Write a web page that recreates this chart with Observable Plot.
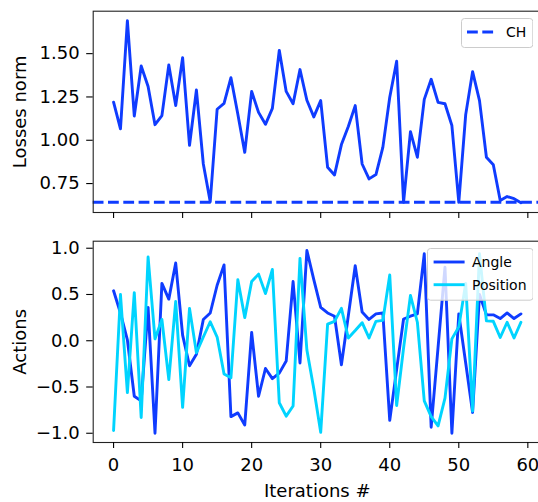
<!DOCTYPE html>
<html>
<head>
<meta charset="utf-8">
<script src="https://cdn.jsdelivr.net/npm/d3@7"></script>
<script src="https://cdn.jsdelivr.net/npm/@observablehq/plot@0.6"></script>
<style>
html, body { margin: 0; padding: 0; background: #fff; overflow: hidden; }
#fig { position: relative; width: 538px; height: 502px; font-family: "DejaVu Sans", sans-serif; }
#fig > svg { position: absolute; left: 0; }
.legend { position: absolute; }
</style>
</head>
<body>
<div id="fig"></div>
<script>
// ---- data ----
const losses = [1.22, 1.066, 1.69, 1.14, 1.429, 1.31, 1.09, 1.142, 1.435, 1.2,
  1.477, 0.971, 1.29, 0.863, 0.645, 1.179, 1.213, 1.361, 1.15, 0.93,
  1.282, 1.161, 1.092, 1.184, 1.519, 1.282, 1.211, 1.408, 1.231, 1.135,
  1.229, 0.844, 0.8, 0.975, 1.079, 1.2, 0.863, 0.777, 0.802, 0.959,
  1.248, 1.456, 0.642, 1.05, 0.902, 1.236, 1.352, 1.219, 1.211, 1.085,
  0.642, 1.148, 1.396, 1.229, 0.902, 0.859, 0.652, 0.675, 0.663, 0.639];
const chValue = [0.642];
const angle = [0.54, 0.3, 0.01, -0.6, -0.65, 0.36, -1.0, 0.62, 0.45, 0.84,
  0.06, -0.27, -0.145, 0.23, 0.3, 0.6, 0.82, -0.82, -0.78, -0.91,
  0.09, -0.6, -0.3, -0.41, -0.35, -0.22, 0.64, -0.24, 0.975, 0.66,
  0.36, 0.3, 0.265, -0.26, 0.27, 0.81, 0.31, 0.23, 0.29, 0.3,
  -0.86, -0.31, 0.235, 0.265, 0.29, 0.94, -0.935, -0.07, 0.795, -1.0,
  0.29, -0.24, -0.775, 0.5, 0.28, 0.28, 0.24, 0.3, 0.24, 0.29];
const position = [-0.97, 0.5, -0.56, 0.52, -0.83, 0.905, 0.02, 0.23, -0.42, 0.425,
  -0.72, 0.35, -0.13, 0.04, 0.205, 0.04, -0.36, -0.4, 0.66, 0.25,
  0.64, 0.72, 0.51, 0.77, -0.67, -0.815, -0.705, 0.89, -0.1, -0.52,
  -0.99, 0.18, 0.21, 0.35, 0.03, 0.11, 0.195, 0.03, 0.21, 0.22,
  0.71, -0.7, -0.08, 0.49, 0.2, -0.65, -0.82, -0.92, -0.62, 0.02,
  0.15, 0.62, -0.76, 0.94, 0.215, 0.21, 0.035, 0.2, 0.03, 0.2];
const xTicks = [0, 10, 20, 30, 40, 50, 60];
const yTicksTop = [0.75, 1.0, 1.25, 1.5];
const yTicksBottom = [-1.0, -0.5, 0.0, 0.5, 1.0];
const seriesNames = ["Angle", "Position"];
const chName = "CH";
const labels = { x: "Iterations #", yTop: "Losses norm", yBottom: "Actions" };

// ---- styles ----
const BLUE = "#0f3cff";
const CYAN = "#00d4ff";
const LW = 2.9;
const DASH = "10.8,4.5";
const FONT = '"DejaVu Sans", sans-serif';

const iters = losses.map((_, i) => i);

const common = {
  width: 538,
  marginLeft: 92.7,
  marginRight: -2.8,
  marginTop: 10.7,
  x: { domain: [-2.95, 61.95] },
  style: { fontFamily: FONT, fontSize: "18px", color: "#000", background: "transparent" }
};

const topPlot = Plot.plot({
  ...common,
  height: 230,
  marginBottom: 18,
  y: { domain: [0.583, 1.745] },
  marks: [
    Plot.lineY(losses, { x: (d, i) => iters[i], y: d => d, stroke: BLUE, strokeWidth: LW }),
    Plot.ruleY(chValue, { y: d => d, stroke: BLUE, strokeWidth: LW, strokeDasharray: DASH, strokeLinecap: "butt" }),
    Plot.frame({ stroke: "#222", strokeWidth: 1.1 }),
    Plot.axisX({ ticks: xTicks, tickSize: 6, tickFormat: () => "", strokeWidth: 1.1, label: null }),
    Plot.axisY({ ticks: yTicksTop, tickSize: 6.5, tickPadding: 7, tickFormat: d => d.toFixed(2), strokeWidth: 1.1, label: null }),
    Plot.text([labels.yTop], { frameAnchor: "left", rotate: -90, dx: -73.3, text: d => d, textAnchor: "middle", lineAnchor: "middle", fontSize: 18 })
  ]
});

const bottomPlot = Plot.plot({
  ...common,
  height: 272,
  marginBottom: 60,
  y: { domain: [-1.10, 1.076] },
  marks: [
    Plot.lineY(angle, { x: (d, i) => iters[i], y: d => d, stroke: BLUE, strokeWidth: LW }),
    Plot.lineY(position, { x: (d, i) => iters[i], y: d => d, stroke: CYAN, strokeWidth: LW }),
    Plot.frame({ stroke: "#222", strokeWidth: 1.1 }),
    Plot.axisX({ ticks: xTicks, tickSize: 6, tickPadding: 9.5, tickFormat: d => String(d), strokeWidth: 1.1, label: null }),
    Plot.axisY({ ticks: yTicksBottom, tickSize: 6.5, tickPadding: 7, tickFormat: d => d.toFixed(1).replace("-", "\u2212"), strokeWidth: 1.1, label: null }),
    Plot.text([labels.yBottom], { frameAnchor: "left", rotate: -90, dx: -73.3, text: d => d, textAnchor: "middle", lineAnchor: "middle", fontSize: 18 }),
    Plot.text([labels.x], { frameAnchor: "bottom", dy: 49.2, text: d => d, textAnchor: "middle", lineAnchor: "middle", fontSize: 18 })
  ]
});

const fig = document.getElementById("fig");
topPlot.style.top = "0px";
bottomPlot.style.top = "230px";
fig.appendChild(topPlot);
fig.appendChild(bottomPlot);

// ---- legends (matplotlib-style boxes) ----
const NS = "http://www.w3.org/2000/svg";
function makeLegend(left, top, w, h, items) {
  const svg = document.createElementNS(NS, "svg");
  svg.setAttribute("class", "legend");
  svg.setAttribute("width", w);
  svg.setAttribute("height", h);
  svg.style.left = left + "px";
  svg.style.top = top + "px";
  const rect = document.createElementNS(NS, "rect");
  rect.setAttribute("x", 0.5); rect.setAttribute("y", 0.5);
  rect.setAttribute("width", w - 1); rect.setAttribute("height", h - 1);
  rect.setAttribute("rx", 3);
  rect.setAttribute("fill", "rgba(255,255,255,0.8)");
  rect.setAttribute("stroke", "#cccccc");
  rect.setAttribute("stroke-width", 1);
  svg.appendChild(rect);
  items.forEach(it => {
    const line = document.createElementNS(NS, "line");
    line.setAttribute("x1", it.x1); line.setAttribute("x2", it.x2);
    line.setAttribute("y1", it.y); line.setAttribute("y2", it.y);
    line.setAttribute("stroke", it.color);
    line.setAttribute("stroke-width", LW);
    if (it.dash) line.setAttribute("stroke-dasharray", it.dash);
    svg.appendChild(line);
    const t = document.createElementNS(NS, "text");
    t.setAttribute("x", it.tx); t.setAttribute("y", it.y);
    t.setAttribute("dy", "0.36em");
    t.setAttribute("font-family", FONT);
    t.setAttribute("font-size", 14);
    t.setAttribute("fill", "#000");
    t.textContent = it.label;
    svg.appendChild(t);
  });
  fig.appendChild(svg);
}
makeLegend(460.7, 18.3, 72.3, 30, [
  { label: chName, color: BLUE, dash: DASH, x1: 6, x2: 34.3, y: 14, tx: 45 }
]);
makeLegend(426.7, 248.3, 106.6, 52.7, [
  { label: seriesNames[0], color: BLUE, x1: 6.6, x2: 37.6, y: 14, tx: 45 },
  { label: seriesNames[1], color: CYAN, x1: 6.6, x2: 37.6, y: 36.7, tx: 45 }
]);
</script>
</body>
</html>
